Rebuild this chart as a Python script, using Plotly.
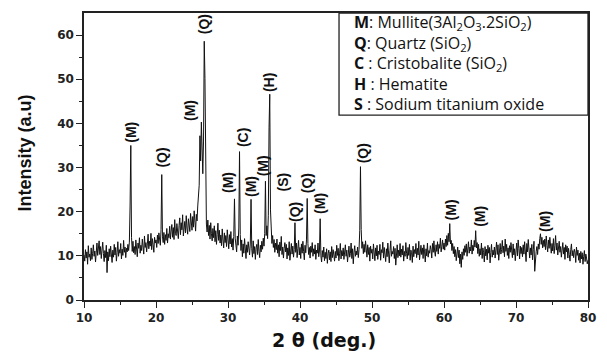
import numpy as np
import plotly.graph_objects as go

# 2-theta grid: 10.0 .. 80.0 in 0.1 deg steps (one row below = one degree)
two_theta = [round(10 + 0.1 * i, 1) for i in range(701)]

intensity = [
    10.2, 8.8, 11.4, 9.5, 10.9, 8.1, 12.3, 9.7, 10.4, 8.9,      # 10
    11.8, 9.2, 10.6, 12.5, 9.9, 11.1, 8.6, 10.8, 12.9, 10.1,    # 11
    11.5, 13.4, 10.3, 12.1, 9.4, 11.7, 13.1, 10.5, 8.7, 11.2,   # 12
    9.6, 12.4, 6.2, 10.9, 8.9, 11.6, 9.8, 12.2, 10.4, 8.5,      # 13
    11.3, 9.7, 12.6, 10.2, 11.9, 8.8, 10.7, 13.2, 9.9, 11.4,    # 14
    10.6, 12.8, 9.3, 11.5, 10.1, 13.5, 10.8, 12.0, 9.6, 11.7,   # 15
    10.9, 12.6, 11.2, 13.1, 21.5, 35.0, 14.2, 11.0, 13.3, 10.7, # 16
    12.1, 10.3, 13.6, 11.5, 9.8, 12.9, 11.7, 14.1, 10.6, 12.4,  # 17
    11.2, 13.8, 12.0, 10.4, 14.5, 11.9, 13.0, 10.9, 12.7, 14.9, # 18
    11.6, 13.3, 12.2, 15.1, 11.4, 13.9, 12.5, 10.8, 14.2, 12.9, # 19
    13.6, 11.9, 14.7, 12.8, 15.2, 13.1, 12.4, 16.0, 28.4, 14.3, # 20
    13.0, 15.3, 12.6, 14.8, 13.5, 16.2, 12.9, 15.0, 14.1, 16.7, # 21
    13.8, 15.6, 17.1, 14.2, 16.4, 13.7, 18.2, 15.1, 14.6, 17.3, # 22
    15.4, 13.9, 16.8, 18.6, 14.8, 17.5, 15.9, 19.3, 14.5, 16.9, # 23
    17.8, 15.2, 19.1, 16.3, 14.9, 18.4, 16.7, 15.5, 19.6, 17.0, # 24
    15.8, 18.9, 16.5, 20.2, 17.3, 15.6, 19.4, 17.9, 21.3, 23.0, # 25
    26.0, 37.2, 31.5, 40.3, 33.8, 28.6, 36.0, 58.6, 50.2, 23.5, # 26
    17.2, 15.4, 18.1, 14.6, 16.9, 13.8, 17.5, 15.0, 13.4, 16.2, # 27
    14.1, 16.8, 13.2, 15.7, 12.6, 14.9, 17.4, 13.5, 15.8, 12.9, # 28
    14.7, 12.3, 16.1, 13.6, 11.8, 15.2, 13.0, 14.6, 12.1, 15.9, # 29
    13.4, 11.6, 14.8, 12.7, 15.5, 12.0, 13.9, 11.3, 14.4, 22.9, # 30
    14.0, 12.2, 10.9, 14.5, 12.4, 16.3, 33.6, 14.8, 11.2, 13.6, # 31
    9.8, 12.7, 10.6, 13.9, 11.1, 9.4, 12.5, 10.8, 13.2, 11.5,   # 32
    10.2, 12.9, 22.8, 11.6, 9.7, 13.4, 10.5, 12.1, 9.2, 11.8,   # 33
    12.6, 10.3, 13.7, 11.0, 9.6, 12.4, 10.9, 13.3, 11.5, 14.0,  # 34
    12.2, 15.1, 26.9, 14.6, 16.8, 13.9, 19.2, 39.0, 46.6, 20.4, # 35
    15.3, 12.8, 14.6, 11.9, 13.7, 10.8, 12.9, 11.4, 13.8, 10.6, # 36
    12.5, 9.8, 13.1, 11.2, 14.4, 10.3, 12.0, 9.5, 11.7, 13.0,   # 37
    10.9, 12.6, 9.3, 11.8, 10.1, 13.2, 9.0, 11.5, 12.8, 10.4,   # 38
    12.2, 9.7, 11.4, 17.5, 10.8, 12.9, 9.6, 11.7, 13.5, 10.2,   # 39
    11.9, 9.4, 12.7, 10.6, 13.3, 11.0, 9.1, 12.4, 10.7, 13.6,   # 40
    23.0, 12.8, 10.3, 11.9, 9.5, 12.2, 10.8, 13.0, 9.9, 11.6,   # 41
    10.4, 12.5, 9.2, 11.3, 10.6, 12.9, 9.8, 11.1, 18.4, 10.0,   # 42
    8.6, 11.2, 9.7, 12.0, 8.9, 10.8, 9.4, 11.6, 8.3, 10.5,      # 43
    11.3, 9.1, 10.9, 8.7, 12.1, 9.6, 11.4, 10.2, 8.8, 11.0,     # 44
    9.5, 12.4, 10.1, 11.7, 8.9, 10.6, 12.8, 9.3, 11.2, 10.0,    # 45
    11.8, 9.2, 10.7, 12.5, 9.9, 11.3, 8.6, 10.9, 12.2, 9.7,     # 46
    10.5, 12.9, 9.4, 11.6, 8.2, 10.8, 12.3, 9.9, 11.1, 10.2,    # 47
    12.0, 9.6, 11.4, 15.8, 30.2, 16.0, 11.7, 13.2, 10.5, 12.6,  # 48
    10.8, 13.4, 11.2, 9.7, 12.5, 10.3, 11.9, 8.8, 12.2, 10.6,   # 49
    11.5, 9.3, 12.7, 10.4, 8.9, 11.8, 10.0, 12.4, 9.2, 11.1,    # 50
    10.3, 12.6, 9.0, 11.4, 10.7, 13.1, 9.5, 11.9, 10.2, 8.7,    # 51
    11.6, 9.8, 12.9, 10.5, 8.4, 11.2, 13.4, 9.9, 11.0, 10.4,    # 52
    12.1, 9.4, 11.7, 7.9, 10.8, 12.5, 9.6, 11.3, 10.0, 12.8,    # 53
    9.7, 11.5, 10.2, 12.3, 8.8, 11.0, 9.9, 13.0, 10.6, 9.3,     # 54
    11.9, 10.1, 12.6, 9.0, 11.3, 10.7, 8.5, 12.2, 9.8, 11.4,    # 55
    10.5, 12.8, 9.6, 11.7, 10.2, 13.3, 9.1, 11.0, 12.4, 10.3,   # 56
    11.8, 9.4, 12.5, 10.9, 8.6, 11.6, 10.0, 12.9, 9.7, 11.2,    # 57
    10.6, 12.3, 11.4, 9.5, 12.8, 10.8, 13.4, 11.1, 9.9, 12.5,   # 58
    11.0, 13.2, 10.4, 12.6, 11.7, 14.0, 10.9, 12.2, 13.6, 11.5, # 59
    12.9, 11.3, 13.8, 12.1, 14.6, 12.4, 15.1, 13.2, 17.3, 12.7, # 60
    13.5, 11.2, 12.8, 10.5, 12.1, 9.8, 11.4, 8.9, 10.7, 12.0,   # 61
    9.6, 11.3, 8.2, 10.4, 7.4, 10.9, 9.2, 11.6, 10.1, 12.3,     # 62
    10.8, 12.7, 9.9, 11.5, 13.2, 10.6, 12.0, 11.1, 13.6, 10.4,  # 63
    12.4, 11.2, 13.5, 12.0, 15.7, 11.8, 13.0, 10.5, 12.6, 9.9,  # 64
    11.6, 10.2, 12.9, 9.4, 11.8, 10.7, 8.6, 12.1, 10.0, 11.5,   # 65
    9.1, 12.4, 10.6, 11.9, 8.4, 10.8, 12.6, 9.7, 11.3, 10.2,    # 66
    12.0, 9.5, 11.7, 13.1, 10.3, 12.5, 9.0, 11.2, 12.8, 10.4,   # 67
    11.4, 13.5, 10.7, 12.2, 9.8, 13.8, 11.0, 12.6, 10.1, 11.8,  # 68
    9.4, 12.3, 10.8, 13.0, 11.5, 9.6, 12.7, 10.2, 11.6, 8.9,    # 69
    11.1, 12.9, 10.0, 13.6, 11.7, 9.3, 12.2, 10.5, 11.9, 9.8,   # 70
    12.5, 10.4, 13.2, 11.0, 8.7, 12.8, 10.9, 13.7, 11.3, 9.5,   # 71
    11.8, 10.2, 12.6, 9.1, 11.4, 13.3, 6.5, 10.6, 11.0, 12.1,   # 72
    10.3, 12.7, 11.5, 13.9, 15.0, 12.6, 14.2, 11.8, 13.5, 12.1, # 73
    13.8, 11.4, 14.5, 12.3, 10.9, 13.6, 11.7, 14.2, 12.0, 10.6, # 74
    12.8, 11.1, 13.9, 10.5, 12.4, 14.6, 11.3, 12.9, 10.2, 11.8, # 75
    13.3, 10.8, 12.1, 9.7, 11.6, 13.0, 10.4, 11.9, 9.2, 12.5,   # 76
    10.9, 12.2, 9.5, 11.7, 10.3, 8.8, 11.4, 12.7, 10.0, 11.2,   # 77
    9.6, 11.5, 10.8, 8.5, 12.0, 10.1, 11.3, 9.0, 10.6, 8.4,     # 78
    11.0, 9.3, 10.7, 8.1, 9.9, 11.2, 8.7, 10.4, 9.5, 8.2,       # 79
    9.0,                                                        # 80
]

# Phase labels placed above the peaks (x in deg, y in intensity units)
peak_labels = ["(M)", "(Q)", "(M)", "(Q)", "(M)", "(C)", "(M)", "(M)", "(H)",
               "(S)", "(Q)", "(Q)", "(M)", "(Q)", "(M)", "(M)", "(M)"]
peak_label_x = [16.6, 20.8, 24.7, 26.7, 30.0, 32.1, 33.2, 34.8, 35.8,
                37.6, 39.2, 41.0, 42.8, 48.8, 61.1, 64.9, 74.1]
peak_label_y = [38.0, 32.2, 43.0, 62.5, 26.5, 36.7, 25.6, 30.4, 49.3,
                26.8, 20.0, 26.5, 21.8, 33.3, 20.5, 18.9, 17.8]

legend_lines = [
    "<b>M</b>: Mullite(3Al<sub>2</sub>O<sub>3</sub>.2SiO<sub>2</sub>)",
    "<b>Q</b>: Quartz (SiO<sub>2</sub>)",
    "<b>C</b> : Cristobalite (SiO<sub>2</sub>)",
    "<b>H</b> : Hematite",
    "<b>S</b> : Sodium titanium oxide",
]

x_ticks = [10, 20, 30, 40, 50, 60, 70, 80]
y_ticks = [0, 10, 20, 30, 40, 50, 60]

fig = go.Figure()
fig.add_trace(go.Scatter(x=two_theta, y=intensity, mode="lines",
                         line=dict(color="#111111", width=1.0),
                         showlegend=False, hoverinfo="skip"))

tickfont = dict(family="DejaVu Sans", size=12, color="#222", weight="bold")
fig.update_xaxes(range=[10, 80], tickvals=x_ticks, ticks="outside", ticklen=6,
                 tickwidth=1.3, tickcolor="#222", showline=True, linecolor="#222",
                 linewidth=1.5, mirror=True, showgrid=False, zeroline=False,
                 tickfont=tickfont,
                 minor=dict(tickvals=[15, 25, 35, 45, 55, 65, 75], ticks="outside",
                            ticklen=3, tickwidth=1.2, tickcolor="#222"))
fig.update_yaxes(range=[0, 65], tickvals=y_ticks, ticks="outside", ticklen=6,
                 tickwidth=1.3, tickcolor="#222", showline=True, linecolor="#222",
                 linewidth=1.5, mirror=True, showgrid=False, zeroline=False,
                 tickfont=tickfont,
                 minor=dict(tickvals=[5, 15, 25, 35, 45, 55], ticks="outside",
                            ticklen=3, tickwidth=1.2, tickcolor="#222"))

for t, xv, yv in zip(peak_labels, peak_label_x, peak_label_y):
    fig.add_annotation(x=xv, y=yv, text=t, textangle=-90, showarrow=False,
                       font=dict(family="Liberation Sans, Arial", size=14,
                                 color="#111", weight="bold"))

# legend box
fig.add_shape(type="rect", xref="paper", yref="paper", x0=0.506, x1=1.0,
              y0=0.644, y1=1.0, line=dict(color="#222", width=1.3))
legend_y = [0.966, 0.894, 0.823, 0.752, 0.683]
for t, yv in zip(legend_lines, legend_y):
    fig.add_annotation(xref="paper", yref="paper", x=0.531, y=yv, text=t,
                       xanchor="left", yanchor="middle", showarrow=False,
                       font=dict(family="Open Sans", size=16, color="#111"))

# axis titles
fig.add_annotation(xref="paper", yref="paper", x=0.476, y=-0.138,
                   text="2 \u03b8 (deg.)", showarrow=False, yanchor="middle",
                   font=dict(family="DejaVu Sans", size=19, color="#111",
                             weight="bold"))
fig.add_annotation(xref="paper", yref="paper", x=-0.116, y=0.512,
                   text="Intensity (a.u)", textangle=-90, showarrow=False,
                   xanchor="center", yanchor="middle",
                   font=dict(family="Liberation Sans Narrow, Arial Narrow, Liberation Sans",
                             size=18, color="#111", weight="bold"))

fig.update_layout(width=607, height=359, margin=dict(l=84, r=13, t=11, b=59),
                  paper_bgcolor="white", plot_bgcolor="white")

fig.write_html("out.html")
